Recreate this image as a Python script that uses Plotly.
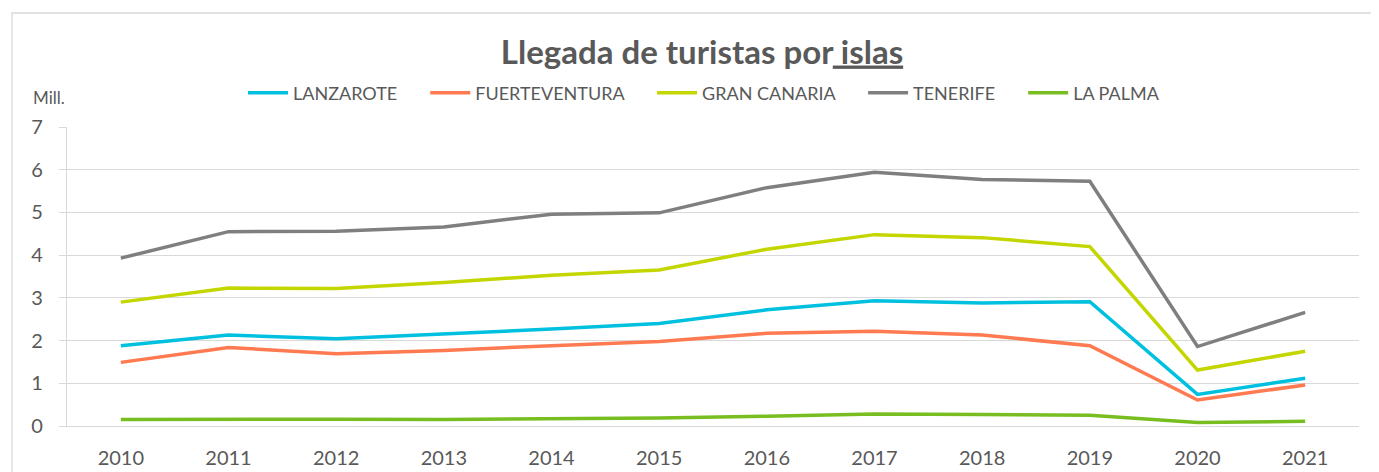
import plotly.graph_objects as go

years = ["2010", "2011", "2012", "2013", "2014", "2015", "2016", "2017", "2018", "2019", "2020", "2021"]
lanzarote = [1.88, 2.13, 2.04, 2.15, 2.27, 2.40, 2.72, 2.93, 2.88, 2.91, 0.74, 1.12]
fuerteventura = [1.49, 1.84, 1.69, 1.77, 1.88, 1.98, 2.17, 2.22, 2.13, 1.88, 0.61, 0.96]
gran_canaria = [2.90, 3.23, 3.22, 3.36, 3.53, 3.65, 4.14, 4.48, 4.41, 4.20, 1.31, 1.75]
tenerife = [3.93, 4.55, 4.56, 4.66, 4.96, 4.99, 5.58, 5.94, 5.77, 5.73, 1.86, 2.66]
la_palma = [0.15, 0.16, 0.16, 0.15, 0.16, 0.19, 0.23, 0.28, 0.27, 0.25, 0.08, 0.11]

names = ["LANZAROTE", "FUERTEVENTURA", "GRAN CANARIA", "TENERIFE", "LA PALMA"]
colors = ["#00C0E0", "#FF7A50", "#C4D600", "#7F7F7F", "#78BE20"]
values = [lanzarote, fuerteventura, gran_canaria, tenerife, la_palma]

FONT = "Lato"
TXT = "#595959"
GRID = "#D9D9D9"
PAD = "\u00a0" * 5

fig = go.Figure()
for i, (name, vals, col) in enumerate(zip(names, values, colors)):
    label = name + (PAD if i < len(names) - 1 else "")
    fig.add_trace(go.Scatter(x=years, y=vals, name=label, mode="lines",
                             line=dict(color=col, width=3.5)))

# page body has an 8px margin; coordinates below are reference pixels minus 8
O = 8
W, H = 1379 - O, 472 - O
L, T = 67 - O, 127 - O
R = W - (1359 - O)
B = H - (426 - O)
pw = W - L - R
ph = H - T - B

fig.update_layout(
    width=W, height=H,
    margin=dict(l=L, r=R, t=T, b=B, autoexpand=False),
    paper_bgcolor="white", plot_bgcolor="white",
    font=dict(family=FONT, color=TXT),
    title=dict(text="<b>Llegada de turistas por<u> islas</u></b>",
               x=(702 - O) / W, xanchor="center", y=1 - (52 - O) / H, yanchor="middle",
               yref="container", font=dict(size=33, color=TXT, family=FONT)),
    legend=dict(orientation="h", x=(243 - O - L) / pw, xanchor="left",
                y=1 - (93 - O) / H, yref="container", yanchor="middle",
                font=dict(size=18, color=TXT, family=FONT),
                itemwidth=40, tracegroupgap=0, bgcolor="rgba(0,0,0,0)"),
    xaxis=dict(type="category", range=[-0.5, 11.5], showgrid=False,
               showline=True, linecolor=GRID, linewidth=1.3,
               ticks="", ticklabelstandoff=14,
               tickfont=dict(size=20, color=TXT, family=FONT),
               fixedrange=True, zeroline=False),
    yaxis=dict(range=[0, 7], dtick=1, showgrid=True, gridcolor=GRID, gridwidth=1.3,
               showline=True, linecolor=GRID, linewidth=1.3,
               ticks="outside", ticklen=7, tickcolor=GRID, tickwidth=1.3,
               ticklabelstandoff=12,
               tickfont=dict(size=20, color=TXT, family=FONT),
               zeroline=False, fixedrange=True),
    showlegend=True,
)

fig.add_annotation(text="Mill.", xref="paper", yref="paper",
                   x=(31 - O - L) / pw, y=(426 - 97) / ph, xanchor="left", yanchor="middle",
                   showarrow=False, font=dict(size=17, color=TXT, family=FONT))

fig.add_shape(type="rect", xref="paper", yref="paper",
              x0=(12 - 67) / pw, x1=(1400 - 67) / pw,
              y0=-0.5, y1=(426 - 13) / ph,
              line=dict(color=GRID, width=1.3), fillcolor="rgba(0,0,0,0)", layer="below")

fig.write_html("out.html")
